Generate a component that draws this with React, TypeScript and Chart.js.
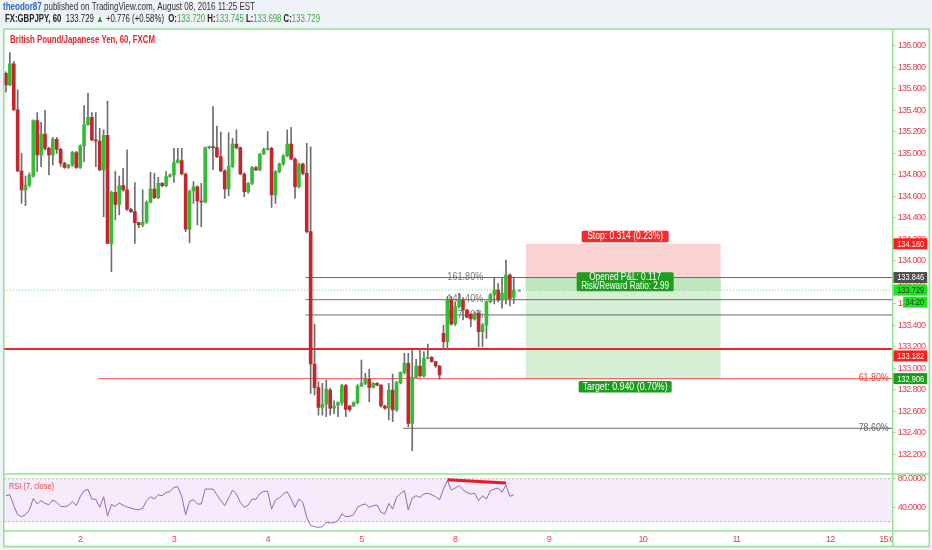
import React, { useEffect, useRef } from 'react';
import { Chart, registerables } from 'chart.js';

Chart.register(...registerables);

// ---------- data ----------
const opens = [135.746,135.637,135.833,135.405,134.837,134.661,134.707,134.790,135.305,134.986,
135.181,135.048,134.986,135.132,135.039,134.909,134.871,134.893,135.008,134.871,
135.070,135.268,135.336,135.126,135.116,134.847,135.169,134.164,134.639,134.527,
134.701,134.661,134.481,134.459,134.357,134.335,134.360,134.546,134.670,134.589,
134.722,134.701,134.785,134.800,134.915,134.933,134.809,134.295,134.651,134.691,
134.558,134.549,135.054,135.060,135.054,134.971,134.837,134.670,134.878,135.088,
135.054,134.809,134.645,134.722,134.868,134.847,134.995,135.039,135.048,134.614,
134.831,134.902,134.977,135.088,134.949,134.691,134.902,134.815,134.273,133.042,
132.822,132.639,132.667,132.800,132.630,132.660,132.682,132.840,132.651,132.651,
132.682,132.837,132.862,132.899,132.825,132.862,132.846,132.651,132.630,132.800,
132.614,132.868,132.964,133.048,132.490,132.918,133.023,132.930,133.095,133.104,
133.064,133.023,133.327,133.250,133.637,133.414,133.575,133.637,133.544,133.504,
133.460,133.513,133.343,133.405,133.622,133.684,133.730,133.637,133.640,133.870,
133.662];

const highs = [135.76,135.938,135.855,135.591,135.002,134.791,134.82,135.312,135.38,135.29,
135.402,135.06,135.15,135.15,135.05,134.92,134.90,135.02,135.02,135.08,
135.445,135.56,135.38,135.38,135.234,135.219,135.488,134.65,134.837,134.79,
134.862,135.033,134.49,134.729,134.36,134.661,134.56,134.825,134.815,134.778,
134.73,134.831,134.81,135.048,135.048,135.048,134.82,134.66,134.738,134.70,
134.722,135.06,135.07,135.436,135.256,135.20,134.85,135.194,135.141,135.219,
135.06,134.82,134.73,134.88,134.88,135.00,135.05,135.203,135.06,134.84,
134.91,134.99,135.219,135.243,134.96,134.91,134.91,135.094,135.063,133.414,
132.877,132.862,132.893,132.815,132.70,132.69,132.853,132.853,132.66,132.69,
132.85,133.079,132.955,132.992,132.87,132.87,132.85,132.66,132.862,132.949,
132.88,132.97,133.141,133.141,133.172,133.085,133.188,133.157,133.228,133.11,
133.07,133.03,133.405,133.668,133.668,133.62,133.70,133.66,133.55,133.51,
133.52,133.544,133.42,133.63,133.70,133.848,133.79,133.848,134.009,133.88,
133.85];

const lows = [135.57,135.63,135.40,134.83,134.536,134.515,134.69,134.78,134.831,134.878,
135.03,134.80,134.893,135.00,134.88,134.86,134.86,134.88,134.86,134.86,
134.924,135.26,135.12,134.878,134.84,134.412,134.16,133.901,134.381,134.428,
134.65,134.47,134.45,134.164,134.31,134.319,134.35,134.54,134.58,134.58,
134.69,134.69,134.78,134.73,134.91,134.80,134.273,134.171,134.536,134.335,
134.319,134.54,135.045,134.85,134.96,134.83,134.583,134.608,134.87,135.04,
134.80,134.598,134.63,134.71,134.84,134.84,134.99,135.03,134.499,134.536,
134.82,134.89,134.97,134.94,134.583,134.68,134.80,134.26,132.769,132.754,
132.567,132.567,132.552,132.567,132.58,132.552,132.66,132.552,132.60,132.645,
132.67,132.83,132.85,132.691,132.82,132.84,132.64,132.62,132.521,132.505,
132.60,132.86,132.95,132.459,132.236,132.91,132.92,132.92,133.09,133.06,
133.01,132.899,133.172,133.172,133.40,133.40,133.56,133.451,133.47,133.389,
133.45,133.203,133.203,133.28,133.61,133.60,133.62,133.56,133.60,133.581,
133.606];

const closes = [135.637,135.833,135.405,134.837,134.661,134.707,134.800,135.305,134.986,135.181,
135.048,134.986,135.132,135.039,134.909,134.871,134.893,135.008,134.871,135.070,
135.268,135.336,135.126,135.116,134.847,135.169,134.164,134.639,134.527,134.701,
134.661,134.481,134.459,134.357,134.335,134.360,134.546,134.670,134.589,134.722,
134.701,134.785,134.800,134.915,134.940,134.809,134.295,134.651,134.691,134.558,
134.549,135.054,135.060,135.054,134.971,134.837,134.670,134.878,135.088,135.054,
134.809,134.645,134.722,134.868,134.847,134.995,135.039,135.048,134.614,134.831,
134.902,134.977,135.088,134.949,134.691,134.902,134.815,134.273,133.042,132.822,
132.639,132.667,132.809,132.630,132.651,132.682,132.840,132.620,132.620,132.682,
132.837,132.862,132.899,132.825,132.862,132.846,132.651,132.630,132.800,132.614,
132.868,132.964,133.048,132.490,132.918,133.023,132.930,133.095,133.104,133.064,
133.023,132.940,133.250,133.637,133.414,133.575,133.637,133.544,133.482,133.460,
133.513,133.343,133.405,133.622,133.684,133.730,133.637,133.700,133.870,133.653,
133.729];

const rsiValues = [56.3,57.7,42.4,29.8,27.0,29.8,36.3,52.6,44.7,49.4,
45.6,43.8,50.3,47.0,41.5,41.0,42.4,48.4,42.4,54.9,
63.3,65.1,51.7,51.2,40.1,54.9,28.0,43.8,41.5,46.1,
42.9,40.5,39.1,37.3,36.8,38.7,49.4,54.9,51.7,57.7,
56.3,61.0,61.9,68.0,68.9,54.9,29.8,48.4,50.8,44.7,
44.7,65.6,65.6,65.6,57.7,49.4,42.4,53.1,64.2,58.7,
47.0,40.1,43.3,51.7,51.2,59.6,62.4,62.4,37.7,50.3,
53.5,58.7,61.9,51.7,40.1,51.7,47.0,26.1,14.5,13.1,
12.2,13.1,19.2,18.2,18.7,21.5,30.8,27.0,27.5,29.8,
40.1,43.3,44.7,40.1,42.4,43.3,33.1,30.8,45.6,37.7,
54.0,59.6,63.3,36.3,53.1,56.3,54.0,58.7,59.6,57.7,
54.9,50.8,65.6,77.3,64.2,67.0,70.3,64.7,61.0,58.7,
59.6,49.4,56.3,51.7,63.3,65.6,67.0,61.0,71.2,55.4,
57.7];

const dayTickIndex = [19, 43, 67, 91, 115, 139, 163, 187, 211, 226];
const dayTickLabels = ['2', '3', '4', '5', '8', '9', '10', '11', '12', '15:00'];
const priceTicks = [132.2, 132.4, 132.6, 132.8, 133.0, 133.2, 133.4, 133.6, 133.8, 134.0,
  134.2, 134.4, 134.6, 134.8, 135.0, 135.2, 135.4, 135.6, 135.8, 136.0];
const rsiTicks = [40, 80];
const rsiBands = [80, 20];

// drawings (in data units)
const supportPrice = 133.182;
const extLabels = ['161.80%', '141.40%', '127.20%'];
const extPrices = [133.846, 133.640, 133.498];
const extStart = 76.7;
const extLabelIndex = 113;
const retrLabels = ['61.80%', '78.60%'];
const retrPrices = [132.906, 132.444];
const retrStarts = [23.6, 101.7];
const posEntry = 133.846;
const posStop = 134.160;
const posTarget = 132.906;
const posStart = 133;
const posEnd = 183;
const lastPrice = 133.729;
const divergenceX = [113, 128];
const divergenceY = [78.6, 74.0];
const X_MIN = -0.5;
const X_MAX = 227;

// ---------- helpers ----------
const FONT = '"Liberation Sans", Arial, sans-serif';
const RED_TXT = '#e6414f';
const BORDER = '#90e390';

function fitText(ctx: any, text: string, x: number, y: number, font: string, color: string,
  width?: number, align: string = 'left') {
  ctx.save();
  ctx.font = font;
  ctx.fillStyle = color;
  ctx.textBaseline = 'middle';
  ctx.textAlign = 'left';
  const w = ctx.measureText(text).width;
  const k = width ? width / w : 1;
  let left = x;
  if (align === 'center') left = x - (w * k) / 2;
  else if (align === 'right') left = x - w * k;
  ctx.translate(left, y);
  ctx.scale(k, 1);
  ctx.fillText(text, 0, 0);
  ctx.restore();
}

function drawRuns(ctx: any, runs: { t: string; font: string; color: string }[], x: number, y: number, width: number) {
  ctx.save();
  ctx.textBaseline = 'middle';
  ctx.textAlign = 'left';
  let total = 0;
  runs.forEach((r) => { ctx.font = r.font; total += ctx.measureText(r.t).width; });
  const k = width / total;
  ctx.translate(x, y);
  ctx.scale(k, 1);
  let cx = 0;
  runs.forEach((r) => {
    ctx.font = r.font;
    ctx.fillStyle = r.color;
    ctx.fillText(r.t, cx, 0);
    cx += ctx.measureText(r.t).width;
  });
  ctx.restore();
}

function box(ctx: any, x: number, y: number, w: number, h: number, bg: string, r: number = 1.5) {
  ctx.save();
  ctx.fillStyle = bg;
  ctx.beginPath();
  if (ctx.roundRect) ctx.roundRect(x, y, w, h, r); else ctx.rect(x, y, w, h);
  ctx.fill();
  ctx.restore();
}

function hline(price: number, x0: number, x1: number, color: string, width: number, order: number,
  dash: number[] = [], axis: string = 'y') {
  return {
    type: 'line',
    data: [{ x: x0, y: price }, { x: x1, y: price }],
    borderColor: color,
    borderWidth: width,
    borderDash: dash,
    pointRadius: 0,
    yAxisID: axis,
    order,
  };
}

function zone(top: number, bottom: number, x0: number, x1: number, color: string, order: number) {
  return {
    type: 'line',
    data: [{ x: x0, y: top }, { x: x1, y: top }],
    borderWidth: 0,
    borderColor: 'rgba(0,0,0,0)',
    backgroundColor: color,
    fill: { value: bottom },
    pointRadius: 0,
    yAxisID: 'y',
    order,
  };
}

const overlay = {
  id: 'overlay',
  beforeDraw(chart: any) {
    const { ctx, width, height } = chart;
    ctx.save();
    ctx.fillStyle = '#eff2f7';
    ctx.fillRect(0, 0, width, height);
    ctx.fillStyle = '#ffffff';
    ctx.fillRect(4, 29, 925, 517.5);
    ctx.restore();
    // narrow the axis labels drawn next by the scales
    ctx.letterSpacing = '-0.7px';
  },
  beforeDatasetsDraw(chart: any) {
    const { ctx } = chart;
    ctx.letterSpacing = '0px';
    const xs = chart.scales.x;
    const ys = chart.scales.y;
    extLabels.forEach((l, i) => {
      fitText(ctx, l, xs.getPixelForValue(extLabelIndex), ys.getPixelForValue(extPrices[i]),
        `10px ${FONT}`, '#7a7a7a', 36);
    });
  },
  afterDatasetsDraw(chart: any) {
    const { ctx, chartArea } = chart;
    const xs = chart.scales.x;
    const ys = chart.scales.y;
    const rs = chart.scales.rsi;
    retrLabels.forEach((l, i) => {
      fitText(ctx, l, chartArea.right - 4, ys.getPixelForValue(retrPrices[i]) - 0.5,
        `10px ${FONT}`, i === 0 ? '#e34a4a' : '#666', 30, 'right');
    });
    const cx = (xs.getPixelForValue(posStart) + xs.getPixelForValue(posEnd)) / 2 + 2;
    const yStop = ys.getPixelForValue(posStop);
    box(ctx, cx - 43.5, yStop - 13, 87, 11.5, '#f52a2a');
    fitText(ctx, 'Stop: 0.314 (0.23%)', cx, yStop - 7.2, `10px ${FONT}`, '#fff', 76, 'center');
    const yEntry = ys.getPixelForValue(posEntry);
    box(ctx, cx - 48.5, yEntry - 5.3, 97, 19, '#1f9d1f');
    fitText(ctx, 'Opened P&L: 0.117', cx, yEntry - 0.2, `10px ${FONT}`, '#fff', 72, 'center');
    fitText(ctx, 'Risk/Reward Ratio: 2.99', cx, yEntry + 8.6, `10px ${FONT}`, '#fff', 88, 'center');
    const yTarget = ys.getPixelForValue(posTarget);
    box(ctx, cx - 46.5, yTarget + 2.5, 93, 11.5, '#1f9d1f');
    fitText(ctx, 'Target: 0.940 (0.70%)', cx, yTarget + 8.3, `10px ${FONT}`, '#fff', 85, 'center');
    fitText(ctx, '*', xs.getPixelForValue(closes.length), ys.getPixelForValue(lastPrice) + 2,
      `9px ${FONT}`, '#666');
    fitText(ctx, 'British Pound/Japanese Yen, 60, FXCM', 10, 40, `bold 10px ${FONT}`, '#e3242b', 145);
    fitText(ctx, 'RSI (7, close)', 9, rs.top + 12, `9.5px ${FONT}`, '#e34c4c', 45);
  },
  afterDraw(chart: any) {
    const { ctx, chartArea } = chart;
    ctx.letterSpacing = '0px';
    const ys = chart.scales.y;
    const rs = chart.scales.rsi;
    const right = chartArea.right;
    ctx.save();
    ctx.fillStyle = '#ffffff';
    ctx.fillRect(right + 0.5, chartArea.bottom + 1, 36, 15);
    ctx.restore();
    const tags = [
      { p: posStop, t: '134.160', bg: '#ff1c1c', fg: '#fff', dy: 0 },
      { p: posEntry, t: '133.846', bg: '#4f4f4f', fg: '#fff', dy: 0 },
      { p: lastPrice, t: '133.729', bg: '#22e022', fg: '#1d3a1d', dy: 0 },
      { p: supportPrice, t: '133.182', bg: '#ff1c1c', fg: '#fff', dy: 7 },
      { p: posTarget, t: '132.906', bg: '#1e9a1e', fg: '#fff', dy: 0 },
    ];
    tags.forEach((g) => {
      const y = ys.getPixelForValue(g.p) + g.dy;
      ctx.save();
      ctx.fillStyle = g.bg;
      ctx.fillRect(right + 0.5, y - 5.5, 34, 11);
      ctx.restore();
      fitText(ctx, g.t, right + 4.5, y + 0.3, `9.5px ${FONT}`, g.fg, 27);
    });
    const yc = ys.getPixelForValue(lastPrice) + 12;
    ctx.save();
    ctx.fillStyle = '#22e022';
    ctx.fillRect(right + 10.5, yc - 5.5, 24, 11);
    ctx.restore();
    fitText(ctx, '34:20', right + 12.5, yc + 0.3, `9.5px ${FONT}`, '#1d3a1d', 19);
    ctx.save();
    ctx.strokeStyle = BORDER;
    ctx.lineWidth = 1.5;
    ctx.strokeRect(3.75, 29, 925.5, 517.5);
    ctx.beginPath();
    ctx.moveTo(right, 29); ctx.lineTo(right, 546.5);
    ctx.moveTo(3.75, ys.bottom); ctx.lineTo(929.25, ys.bottom);
    ctx.moveTo(3.75, rs.bottom); ctx.lineTo(929.25, rs.bottom);
    ctx.stroke();
    ctx.restore();
    const bold = `bold 10px ${FONT}`;
    const reg = `10px ${FONT}`;
    const green = '#3da944';
    drawRuns(ctx, [
      { t: 'theodor87', font: bold, color: '#2a6db5' },
      { t: ' published on TradingView.com, August 08, 2016 11:25 EST', font: reg, color: '#333' },
    ], 3, 7, 252);
    drawRuns(ctx, [
      { t: 'FX:GBPJPY, 60', font: bold, color: '#222' },
      { t: '  133.729 ', font: reg, color: '#222' },
      { t: '\u25B2', font: reg, color: '#2f9e2f' },
      { t: ' +0.776 (+0.58%)  ', font: reg, color: '#222' },
      { t: 'O:', font: bold, color: '#222' },
      { t: '133.720', font: reg, color: green },
      { t: ' H:', font: bold, color: '#222' },
      { t: '133.745', font: reg, color: green },
      { t: ' L:', font: bold, color: '#222' },
      { t: '133.698', font: reg, color: green },
      { t: ' C:', font: bold, color: '#222' },
      { t: '133.729', font: reg, color: green },
    ], 5, 19.5, 315);
  },
};

function buildConfig(): any {
  const idx = opens.map((_, i) => i);
  const bodyColors = idx.map((i) => (closes[i] >= opens[i] ? '#34bd34' : '#c3262b'));
  const datasets: any[] = [
    {
      type: 'bar',
      data: idx.map((i) => ({ x: i, y: [opens[i], closes[i]] })),
      backgroundColor: bodyColors,
      barThickness: 3,
      minBarLength: 1,
      grouped: false,
      yAxisID: 'y',
      order: 0,
    },
    {
      type: 'bar',
      data: idx.map((i) => ({ x: i, y: [lows[i], highs[i]] })),
      backgroundColor: '#6e6e6e',
      barThickness: 1,
      grouped: false,
      yAxisID: 'y',
      order: 1,
    },
    {
      type: 'line',
      data: divergenceX.map((x, i) => ({ x, y: divergenceY[i] })),
      borderColor: '#f0142c',
      borderWidth: 3,
      pointRadius: 0,
      yAxisID: 'rsi',
      order: 0,
    },
    {
      type: 'line',
      data: rsiValues.map((v, i) => ({ x: i, y: v })),
      borderColor: '#9d63b8',
      borderWidth: 1,
      pointRadius: 0,
      tension: 0,
      yAxisID: 'rsi',
      order: 2,
    },
    hline(lastPrice, X_MIN, X_MAX, '#6fd66f', 1, 3, [1, 2]),
    hline(supportPrice, X_MIN, X_MAX, 'rgba(240,24,24,0.95)', 2, 3),
    ...extPrices.map((p) => hline(p, extStart, X_MAX, '#6a6a6a', 1, 4)),
    ...retrPrices.map((p, i) => hline(p, retrStarts[i], X_MAX, i === 0 ? '#f05a5a' : '#6a6a6a', 1, 4)),
    zone(lastPrice, posEntry, posStart, posEnd, '#bfe6bf', 5),
    zone(posStop, posEntry, posStart, posEnd, '#fbd2d2', 6),
    zone(posEntry, posTarget, posStart, posEnd, '#d5efd5', 7),
    hline(rsiBands[1], X_MIN, X_MAX, '#b4b4b4', 1, 8, [2, 2], 'rsi'),
    {
      ...hline(rsiBands[0], X_MIN, X_MAX, '#b4b4b4', 1, 9, [2, 2], 'rsi'),
      backgroundColor: 'rgba(170, 90, 220, 0.12)',
      fill: { value: rsiBands[1] },
    },
  ];

  const tickFont = { family: FONT, size: 9 };
  return {
    type: 'bar',
    data: { datasets },
    options: {
      animation: false,
      responsive: false,
      devicePixelRatio: 1,
      events: [],
      layout: { padding: { left: 4, top: 29, right: 3.3, bottom: 3 } },
      plugins: { legend: { display: false }, tooltip: { enabled: false } },
      scales: {
        x: {
          type: 'linear',
          offset: false,
          min: X_MIN,
          max: X_MAX,
          afterBuildTicks: (s: any) => { s.ticks = dayTickIndex.map((v) => ({ value: v })); },
          afterFit: (s: any) => { s.height = 16; },
          ticks: {
            autoSkip: false,
            maxRotation: 0,
            padding: 3,
            color: RED_TXT,
            font: tickFont,
            callback: (v: number) => {
              const k = dayTickIndex.indexOf(v);
              return k >= 0 ? dayTickLabels[k] : '';
            },
          },
          grid: { display: false, drawTicks: false, offset: false },
          border: { display: false },
        },
        y: {
          type: 'linear',
          position: 'right',
          stack: 'pane',
          stackWeight: 445,
          min: 132.0186,
          max: 136.158,
          afterBuildTicks: (s: any) => { s.ticks = priceTicks.map((v) => ({ value: v })); },
          afterFit: (s: any) => { s.width = 36; },
          ticks: {
            autoSkip: false,
            padding: 2,
            color: RED_TXT,
            font: tickFont,
            callback: (v: number) => v.toFixed(3),
          },
          grid: { drawOnChartArea: false, drawTicks: true, tickLength: 3, color: BORDER },
          border: { display: false },
        },
        rsi: {
          type: 'linear',
          position: 'right',
          stack: 'pane',
          stackWeight: 57,
          min: 7.06,
          max: 86.6,
          afterBuildTicks: (s: any) => { s.ticks = rsiTicks.map((v) => ({ value: v })); },
          afterFit: (s: any) => { s.width = 36; },
          ticks: {
            autoSkip: false,
            padding: 2,
            color: RED_TXT,
            font: tickFont,
            callback: (v: number) => v.toFixed(4),
          },
          grid: { drawOnChartArea: false, drawTicks: true, tickLength: 3, color: BORDER },
          border: { display: false },
        },
      },
    },
    plugins: [overlay],
  };
}

export default function App() {
  const ref = useRef<HTMLCanvasElement>(null);
  useEffect(() => {
    const canvas = ref.current;
    if (!canvas) return;
    const chart = new Chart(canvas, buildConfig());
    return () => chart.destroy();
  }, []);
  return (
    <div style={{ position: 'fixed', left: 0, top: 0, width: 932, height: 550, background: '#eff2f7' }}>
      <canvas ref={ref} width={932} height={550} style={{ display: 'block', width: 932, height: 550 }} />
    </div>
  );
}
